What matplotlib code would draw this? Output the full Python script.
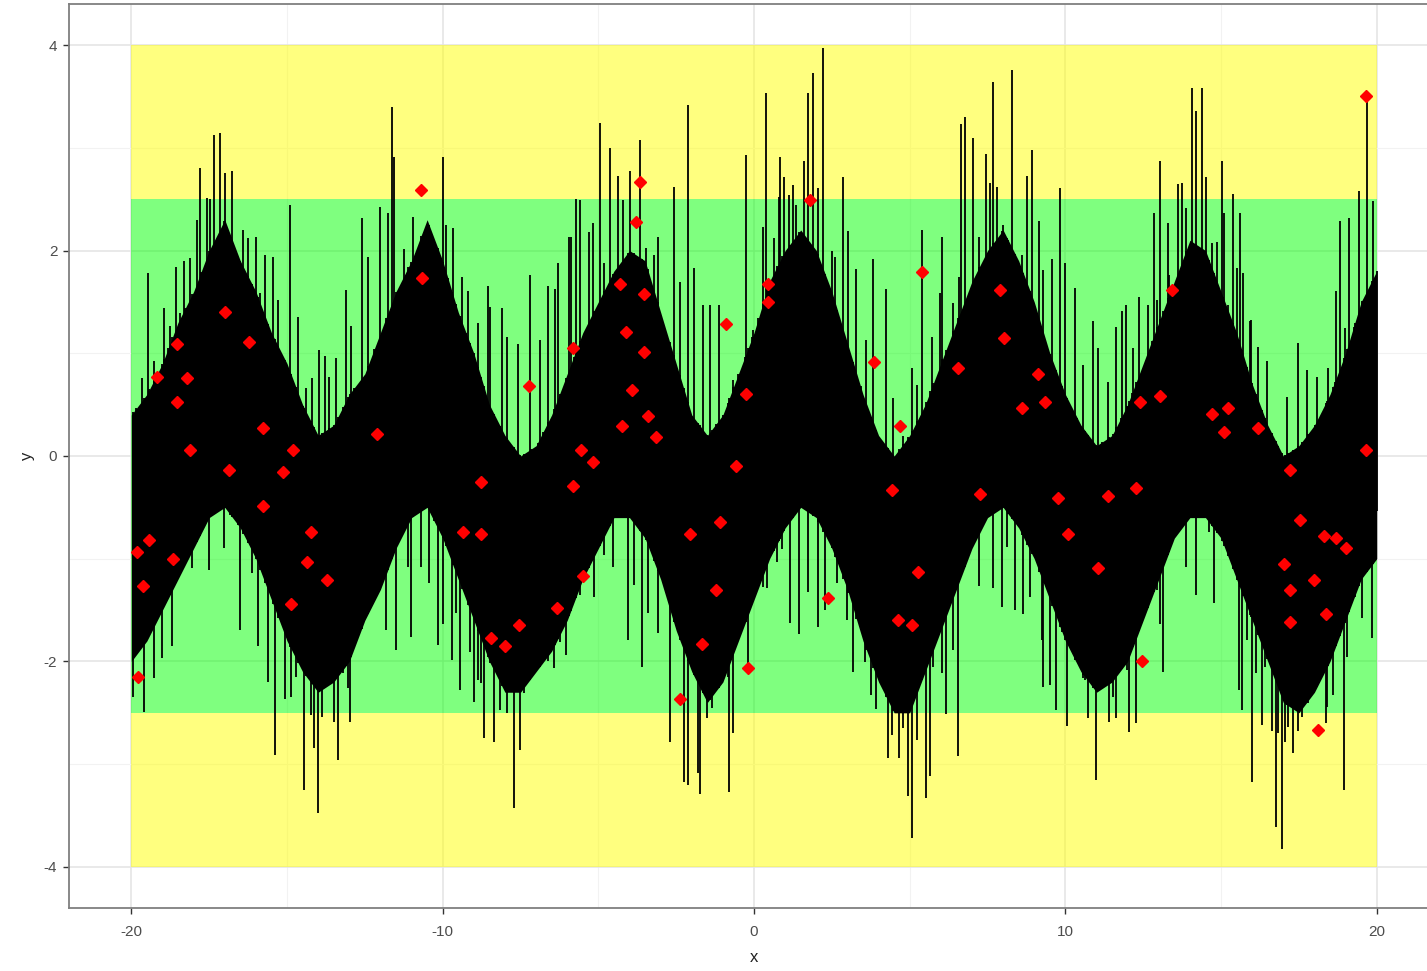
import matplotlib.pyplot as plt
import numpy as np

plt.rcParams['font.family'] = ['Liberation Sans', 'DejaVu Sans']
plt.rcParams['axes.unicode_minus'] = False

# dense black band (noisy series) - envelope read every 0.5 unit
core_x = np.arange(-20, 20.01, 0.5)
core_hi = [0.4, 0.6, 0.9, 1.3, 1.6, 2.0, 2.3, 1.9, 1.6, 1.2, 0.9, 0.5, 0.2, 0.3, 0.6, 0.8,
           1.2, 1.6, 1.9, 2.3, 1.9, 1.4, 1.0, 0.5, 0.2, 0.0, 0.1, 0.4, 0.8, 1.2, 1.5, 1.8,
           2.0, 1.9, 1.4, 0.9, 0.4, 0.2, 0.4, 0.8, 1.2, 1.7, 2.0, 2.2, 2.0, 1.6, 1.1, 0.6,
           0.2, 0.0, 0.2, 0.5, 0.9, 1.3, 1.7, 2.0, 2.2, 1.9, 1.5, 1.0, 0.6, 0.3, 0.1, 0.2,
           0.5, 0.9, 1.3, 1.7, 2.1, 2.0, 1.6, 1.2, 0.7, 0.3, 0.0, 0.1, 0.3, 0.6, 1.0, 1.5, 1.8]
core_lo = [-2.0, -1.8, -1.5, -1.2, -0.9, -0.6, -0.5, -0.7, -1.0, -1.4, -1.8, -2.1, -2.3, -2.2,
           -2.0, -1.6, -1.3, -0.9, -0.6, -0.5, -0.8, -1.2, -1.6, -2.0, -2.3, -2.3, -2.1, -1.9,
           -1.6, -1.2, -0.9, -0.6, -0.6, -0.8, -1.2, -1.7, -2.1, -2.4, -2.2, -1.8, -1.4, -1.0,
           -0.7, -0.5, -0.6, -0.9, -1.3, -1.8, -2.2, -2.5, -2.5, -2.1, -1.7, -1.3, -0.9, -0.6,
           -0.5, -0.7, -1.0, -1.4, -1.8, -2.1, -2.3, -2.2, -2.0, -1.6, -1.2, -0.8, -0.6, -0.6,
           -0.8, -1.2, -1.6, -2.0, -2.4, -2.5, -2.3, -2.0, -1.6, -1.2, -1.0]

# upward spikes (x, top)
up_x = [-19.45, -18.94, -18.56, -18.3, -18.1, -17.9, -17.8, -17.34, -17.15, -16.76, -16.4,
        -16.0, -15.7, -15.45, -14.9, -13.97, -13.1, -12.6, -12.0, -11.63, -11.56, -10.0,
        -9.67, -8.55, -7.2, -6.3, -5.95, -5.73, -4.96, -4.64, -4.38, -3.99, -3.67, -3.1,
        -2.58, -2.39, -2.13, -1.94, -1.43, -1.14, -0.27, 0.37, 0.82, 0.95, 1.24, 1.59, 1.72,
        1.91, 2.23, 2.87, 3.03, 3.29, 3.83, 4.25, 5.08, 5.4, 5.72, 6.05, 6.66, 6.78, 7.04,
        7.46, 7.68, 7.81, 8.29, 8.77, 8.93, 9.16, 9.57, 9.83, 9.99, 10.31, 10.89, 11.95,
        12.37, 12.85, 13.04, 13.3, 13.62, 13.74, 14.07, 14.19, 14.39, 14.51, 15.03, 15.38,
        15.6, 15.93, 16.18, 17.47, 18.69, 18.81, 19.1, 19.42, 19.68, 19.87,
        -19.65, -19.26, -18.75, -18.43, -17.56, -17.47, -16.98, -16.82, -16.57, -16.25,
        -15.86, -15.28, -14.64, -14.39, -14.19, -13.78, -13.65, -13.42, -12.94, -12.4,
        -11.76, -11.24, -10.95, -10.28, -9.9, -9.38, -9.19, -8.87, -8.48, -8.1, -7.94,
        -7.59, -6.88, -6.62, -6.4, -5.89, -5.6, -5.31, -5.18, -4.83, -4.22, -3.48, -3.22,
        -1.65, -0.66, -0.02, 0.3, 0.63, 0.79, 1.11, 1.36, 1.46, 2.07, 2.49, 2.61, 3.61,
        4.47, 4.8, 5.24, 5.98, 6.4, 6.59, 7.23, 7.59, 8.0, 8.16, 8.61, 9.29, 10.57, 11.05,
        11.37, 11.63, 11.82, 12.17, 12.65, 12.94, 13.33, 13.87, 14.71, 14.87, 15.09, 15.22,
        15.51, 15.7, 15.96, 16.47, 17.11, 17.76, 18.08, 18.43, 18.97, 19.29]
up_y = [1.78, 1.44, 1.84, 1.9, 1.93, 2.3, 2.8, 3.12, 3.14, 2.77, 2.2, 2.13, 1.96, 1.94, 2.44,
        1.03, 1.62, 2.32, 2.42, 3.4, 2.91, 2.91, 2.22, 1.65, 1.76, 1.88, 2.13, 2.5, 3.24, 3.0,
        2.73, 2.77, 3.08, 2.13, 2.62, 1.69, 3.42, 1.83, 1.47, 1.47, 2.93, 3.53, 2.91, 2.72,
        2.64, 2.87, 3.53, 3.73, 3.97, 2.72, 2.19, 1.82, 1.92, 1.63, 0.86, 2.2, 1.16, 2.13,
        3.23, 3.3, 3.1, 2.94, 3.64, 2.62, 3.76, 2.73, 2.98, 2.29, 1.92, 2.61, 1.88, 1.64,
        1.31, 1.47, 1.55, 2.37, 2.87, 2.27, 2.65, 2.66, 3.58, 3.36, 3.58, 2.72, 2.87, 2.55,
        2.37, 1.31, 1.06, 1.1, 1.61, 2.29, 2.32, 2.58, 3.5, 2.48,
        0.76, 0.92, 1.27, 1.39, 2.51, 2.5, 2.75, 2.08, 1.94, 2.12,
        1.59, 1.52, 1.35, 0.66, 0.76, 0.97, 0.77, 0.95, 1.27, 1.94,
        2.37, 2.01, 2.33, 1.5, 2.25, 1.74, 1.61, 1.29, 1.45, 1.44, 1.16,
        1.09, 1.13, 1.65, 1.63, 2.13, 2.49, 2.18, 2.27, 1.88, 2.49, 2.02, 1.96,
        1.47, 0.74, 1.23, 2.23, 2.12, 2.52, 2.54, 2.44, 2.13, 2.61, 2.0, 1.94, 1.13,
        0.56, 0.19, 0.69, 1.59, 1.49, 1.74, 2.13, 2.66, 2.25, 2.1, 1.96, 1.81, 0.89, 1.05,
        0.72, 1.26, 1.41, 1.05, 1.47, 1.52, 1.76, 2.41, 2.07, 2.08, 2.37, 1.47,
        1.83, 1.78, 1.32, 0.92, 0.57, 0.84, 0.77, 0.86, 1.25, 1.29]

# downward spikes (x, bottom)
dn_x = [-19.94, -19.58, -19.26, -19.0, -18.68, -18.04, -17.5, -16.5, -15.93, -15.6, -15.4,
        -15.06, -14.45, -14.23, -14.0, -13.87, -13.36, -12.98, -11.82, -11.5, -11.1, -10.15,
        -9.7, -9.45, -9.0, -8.68, -8.35, -7.71, -7.52, -6.43, -6.05, -5.15, -4.06, -3.61,
        -2.71, -2.26, -2.13, -1.75, -1.52, -0.79, -0.66, -0.18, 0.3, 1.14, 1.46, 2.04, 3.19,
        3.93, 4.31, 4.67, 4.96, 5.08, 5.53, 5.66, 6.17, 6.56, 7.23, 8.13, 8.39, 8.65, 9.29,
        9.7, 10.06, 10.63, 10.73, 10.99, 11.4, 11.63, 12.05, 12.27, 13.14, 14.19, 14.77,
        15.67, 15.99, 16.31, 16.63, 16.76, 16.95, 17.05, 17.31, 17.47, 18.36, 18.59, 18.94,
        19.52, 19.84,
        -19.84, -19.42, -19.13, -18.94, -18.81, -18.27, -17.76, -17.02, -16.79, -16.25,
        -16.12, -15.28, -14.87, -14.71, -14.48, -14.13, -13.65, -13.49, -13.2, -13.04,
        -12.85, -12.4, -12.2, -11.02, -10.7, -10.44, -9.99, -9.83, -9.58, -9.25, -9.13,
        -8.87, -8.77, -8.16, -7.94, -7.39, -7.17, -6.95, -6.78, -6.62, -6.24, -5.79, -5.6,
        -4.83, -4.54, -3.87, -3.42, -3.1, -2.58, -2.39, -1.81, -1.36, -1.23, -1.01, -0.85,
        -0.5, -0.3, -0.05, 0.14, 0.43, 0.75, 0.91, 1.72, 2.29, 2.68, 3.0, 3.42, 3.58, 3.77,
        4.44, 4.8, 5.24, 5.76, 6.05, 6.4, 7.68, 7.97, 8.87, 9.26, 9.51, 9.9, 10.38, 10.57,
        11.18, 11.53, 11.79, 11.98, 12.14, 12.78, 12.94, 13.04, 13.3, 13.87, 14.61, 15.06,
        15.38, 15.57, 15.83, 16.12, 16.41, 16.83, 17.15, 17.6, 17.79, 18.01, 18.4, 18.65,
        19.04, 19.26, 20.0]
dn_y = [-2.35, -2.49, -2.16, -1.97, -1.85, -1.09, -1.11, -1.69, -1.85, -2.2, -2.91, -2.37,
        -3.25, -2.52, -3.48, -2.54, -2.96, -2.59, -1.69, -1.89, -1.08, -1.84, -1.99, -2.28,
        -2.39, -2.75, -2.78, -3.43, -2.86, -2.06, -1.94, -1.37, -1.79, -2.05, -2.78, -3.17,
        -3.2, -3.29, -2.55, -3.27, -2.7, -2.08, -1.28, -1.63, -1.73, -1.66, -2.1, -2.46,
        -2.94, -2.94, -3.31, -3.72, -3.33, -3.12, -2.51, -2.92, -1.27, -0.89, -1.5, -1.54,
        -2.25, -2.47, -2.63, -2.18, -2.55, -3.15, -2.59, -2.55, -2.69, -2.6, -2.1, -1.35,
        -1.43, -2.47, -3.17, -2.62, -2.68, -3.61, -3.83, -2.78, -2.89, -2.68, -2.6, -2.33,
        -3.25, -1.58, -1.77,
        -1.61, -1.14, -0.67, -1.04, -1.19, -0.7, -0.5, -0.9, -0.48, -0.65,
        -1.14, -1.3, -2.35, -2.15, -0.62, -2.84, -2.08, -2.59, -2.11, -2.26,
        -1.14, -1.43, -1.14, -1.76, -1.08, -1.24, -1.64, -0.9, -1.53, -1.13, -1.91,
        -2.18, -2.21, -2.47, -2.5, -2.31, -1.99, -1.96, -1.92, -2.0, -1.81, -0.7, -1.35,
        -0.96, -1.08, -1.26, -1.53, -1.72, -1.32, -1.32, -3.09, -2.45, -2.08, -1.79, -2.15,
        -1.79, -1.61, -1.18, -1.27, -1.29, -1.03, -0.91, -1.32, -1.5, -1.24, -1.6, -1.53,
        -2.01, -2.33, -2.72, -2.65, -2.76, -2.05, -2.11, -1.89, -1.29, -1.47, -1.37, -1.79,
        -2.23, -1.71, -1.99, -2.16, -2.13, -2.35, -1.97, -2.08, -0.57, -0.96, -1.3, -1.64,
        -0.89, -1.08, -0.74, -0.64, -1.08, -2.28, -1.79, -2.11, -2.05, -2.7, -2.64, -2.54,
        -2.4, -2.25, -2.44, -1.79, -1.96, -0.82, -0.54]

# red diamonds
pt_x = [-19.81, -19.62, -19.78, -19.43, -19.17, -18.65, -18.52, -18.52, -18.2, -18.13,
        -17.0, -16.87, -16.23, -15.78, -15.78, -15.14, -14.88, -14.82, -14.37, -14.24,
        -13.72, -12.12, -10.71, -10.65, -9.35, -8.77, -8.77, -8.45, -8.0, -7.55, -7.23,
        -6.33, -5.82, -5.82, -5.56, -5.5, -5.18, -4.29, -4.23, -4.1, -3.91, -3.78, -3.66,
        -3.53, -3.53, -3.4, -3.14, -2.37, -2.05, -1.67, -1.22, -1.09, -0.9, -0.58, -0.26,
        -0.19, 0.45, 0.45, 1.81, 2.39, 3.86, 4.43, 4.62, 4.68, 5.07, 5.26, 5.39, 6.55,
        7.26, 7.91, 8.04, 8.62, 9.13, 9.33, 9.77, 10.09, 11.05, 11.37, 12.27, 12.4, 12.46,
        13.04, 13.43, 14.71, 15.1, 15.23, 16.19, 17.02, 17.22, 17.22, 17.22, 17.54, 17.99,
        18.12, 18.31, 18.37, 18.69, 19.01, 19.65, 19.65]
pt_y = [-0.93, -1.27, -2.15, -0.82, 0.77, -1.0, 1.09, 0.53, 0.76, 0.06, 1.4, -0.14, 1.11,
        0.27, -0.49, -0.16, -1.44, 0.06, -1.03, -0.74, -1.21, 0.21, 2.59, 1.73, -0.74, -0.25,
        -0.76, -1.77, -1.85, -1.65, 0.68, -1.48, 1.05, -0.29, 0.06, -1.17, -0.06, 1.67, 0.29,
        1.21, 0.64, 2.28, 2.67, 1.58, 1.01, 0.39, 0.18, -2.37, -0.76, -1.83, -1.3, -0.64,
        1.28, -0.1, 0.6, -2.06, 1.67, 1.5, 2.49, -1.38, 0.91, -0.33, -1.6, 0.29, -1.65,
        -1.13, 1.79, 0.86, -0.37, 1.62, 1.15, 0.47, 0.8, 0.53, -0.41, -0.76, -1.09, -0.39,
        -0.31, 0.53, -2.0, 0.58, 1.62, 0.41, 0.23, 0.47, 0.27, -1.05, -0.14, -1.3, -1.62,
        -0.62, -1.21, -2.67, -0.78, -1.54, -0.8, -0.9, 3.5, 0.06]

fig = plt.figure(figsize=(14.27, 9.71), dpi=100)
ax = fig.add_axes([0.0484, 0.0649, 0.960, 0.931])

ax.set_xlim(-22, 22)
ax.set_ylim(-4.4, 4.4)

# background bands
ax.fill_between([-20, 20], 2.5, 4, color='yellow', alpha=0.5, lw=0, zorder=1)
ax.fill_between([-20, 20], -4, -2.5, color='yellow', alpha=0.5, lw=0, zorder=1)
ax.fill_between([-20, 20], -2.5, 2.5, color='#00ff00', alpha=0.5, lw=0, zorder=1)

# noisy series
ax.fill_between(core_x, core_lo, core_hi, color='black', lw=0, zorder=2)
ax.vlines(up_x, np.interp(up_x, core_x, core_lo), up_y, color='black', lw=1.3, zorder=2)
ax.vlines(dn_x, dn_y, np.interp(dn_x, core_x, core_hi), color='black', lw=1.3, zorder=2)

ax.plot(pt_x, pt_y, 'D', color='red', ms=6, mec='red', zorder=3, clip_on=False)

ax.set_xticks([-20, -10, 0, 10, 20])
ax.set_yticks([-4, -2, 0, 2, 4])
ax.set_xticks([-15, -5, 5, 15], minor=True)
ax.set_yticks([-3, -1, 1, 3], minor=True)
ax.grid(True, which='major', color='#e3e3e3', lw=1.1, zorder=0)
ax.grid(True, which='minor', color='#f2f2f2', lw=0.8, zorder=0)
ax.set_axisbelow(True)
ax.tick_params(which='minor', length=0)
ax.tick_params(which='major', length=4.5, width=1, color='#333333',
               labelsize=11, labelcolor='#4d4d4d')
ax.tick_params(axis='x', pad=8)
ax.tick_params(axis='y', pad=4)
for s in ax.spines.values():
    s.set_color('#7f7f7f')
    s.set_linewidth(1.3)

ax.set_xlabel('x', fontsize=12, color='#222222', labelpad=8)
ax.set_ylabel('y', fontsize=12, color='#222222', labelpad=6)

plt.savefig('out.png', dpi=100)
